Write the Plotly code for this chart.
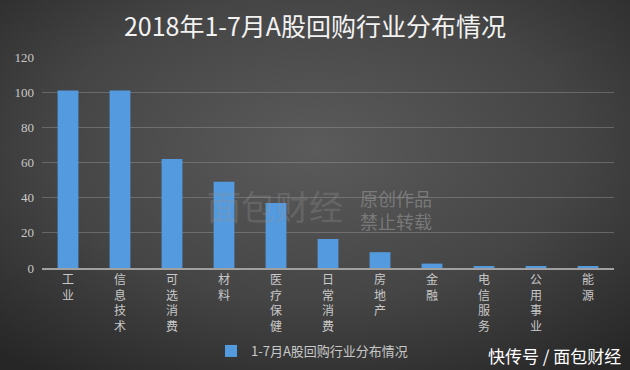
import plotly.graph_objects as go
import base64

categories = ["工业", "信息技术", "可选消费", "材料", "医疗保健", "日常消费", "房地产", "金融", "电信服务", "公用事业", "能源"]
values = [101, 101, 62, 49, 37, 16.5, 9, 2.5, 1, 1, 1]
series_name = "1-7月A股回购行业分布情况"
title_text = "2018年1-7月A股回购行业分布情况"
y_ticks = [0, 20, 40, 60, 80, 100, 120]

tick_text = ["<br>".join(list(c)) for c in categories]

svg = ('<svg xmlns="http://www.w3.org/2000/svg" width="630" height="370">'
       '<defs><radialGradient id="g" cx="0.5" cy="0.4" r="0.75">'
       '<stop offset="0" stop-color="#5b5b5b"/><stop offset="0.55" stop-color="#454545"/>'
       '<stop offset="1" stop-color="#262626"/></radialGradient></defs>'
       '<rect width="630" height="370" fill="url(#g)"/></svg>')
bg_uri = "data:image/svg+xml;base64," + base64.b64encode(svg.encode()).decode()

L, R, T, B = 42, 16, 57, 102
PW, PH = 630 - L - R, 370 - T - B

fig = go.Figure()
fig.add_trace(go.Bar(
    x=categories, y=values, name=series_name,
    marker=dict(color="#539ade", line=dict(width=0)),
    width=0.4, showlegend=True,
))

fig.update_layout(
    width=630, height=370,
    paper_bgcolor="#3e3e3e", plot_bgcolor="rgba(0,0,0,0)",
    margin=dict(l=L, r=R, t=T, b=B, autoexpand=False),
    title=dict(text=title_text, x=0.5, xanchor="center", y=0.927, yanchor="middle",
               font=dict(family="Noto Sans CJK SC", size=25, color="#f2f2f2")),
    font=dict(family="Noto Sans CJK SC", color="#c8c8c8"),
    bargap=0.6,
    legend=dict(orientation="h", x=(211 - L) / PW, xanchor="left", y=(268 - 336) / PH, yanchor="top",
                font=dict(size=13, color="#c8c8c8"), bgcolor="rgba(0,0,0,0)",
                itemwidth=30),
    showlegend=True,
    images=[dict(source=bg_uri, xref="paper", yref="paper", x=-L / PW, y=1 + T / PH,
                 sizex=630 / PW, sizey=370 / PH, xanchor="left", yanchor="top",
                 sizing="stretch", layer="below")],
)
fig.update_yaxes(range=[0, 120], tickvals=y_ticks, showgrid=True, gridcolor="rgba(150,150,150,0.45)",
                 gridwidth=1, zeroline=False, ticks="", ticklen=0, automargin=False,
                 ticklabelstandoff=7,
                 tickfont=dict(family="Liberation Serif", size=13, color="#c8c8c8"))
fig.update_xaxes(tickvals=categories, ticktext=tick_text, showline=True, linecolor="#a0a0a0",
                 linewidth=1.5, ticks="", tickangle=0, automargin=False,
                 tickfont=dict(family="Noto Sans CJK SC", size=12, color="#c8c8c8"))

# watermark
fig.add_annotation(text="原创作品<br>禁止转载", xref="paper", yref="paper", x=(358 - L) / PW, y=(268 - 209) / PH,
                   showarrow=False, font=dict(size=18, color="rgba(150,150,150,0.6)"), align="left",
                   xanchor="left", yanchor="middle")
fig.add_annotation(text="面包财经", xref="paper", yref="paper", x=(345 - L) / PW, y=(268 - 205) / PH,
                   showarrow=False, font=dict(size=34, color="rgba(150,150,150,0.3)"),
                   xanchor="right", yanchor="middle")
fig.add_annotation(text="快传号 / 面包财经", xref="paper", yref="paper", x=(623 - L) / PW, y=(268 - 355) / PH,
                   showarrow=False, font=dict(size=17, color="#ffffff"),
                   xanchor="right", yanchor="middle")

fig.write_html("out.html", config={"displayModeBar": False},
               post_script="document.body.style.margin='0';document.body.style.overflow='hidden';")
